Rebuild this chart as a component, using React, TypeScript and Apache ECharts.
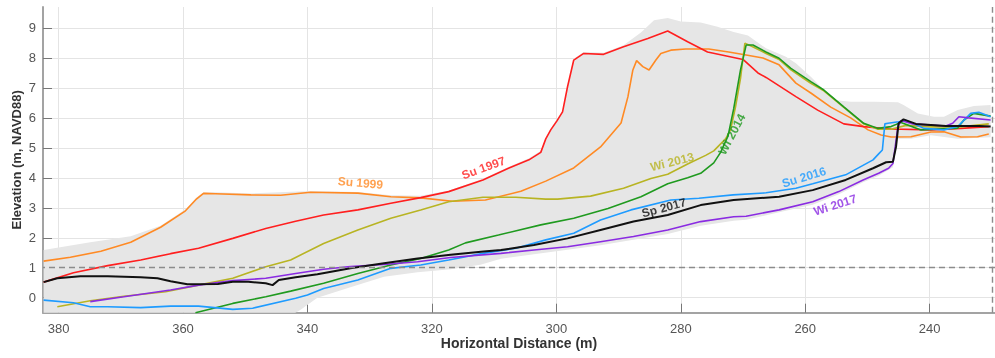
import React, { useEffect, useRef } from "react";
import * as echarts from "echarts";

// Axis ticks
const xTicks = [240, 260, 280, 300, 320, 340, 360, 380];
const yTicks = [0, 1, 2, 3, 4, 5, 6, 7, 8, 9];
const referenceElevation = 1;
const referenceDistance = 230;

// Profiles: [horizontal distance (m), elevation (m, NAVD88)]
const su1997: [number, number][] = [
  [382.4, 0.52], [377.6, 0.83], [372.1, 1.07], [366.8, 1.26], [362.0, 1.47], [357.5, 1.65],
  [352.0, 1.98], [346.7, 2.31], [341.9, 2.55], [337.4, 2.76], [331.9, 2.93], [326.6, 3.15],
  [321.8, 3.34], [317.3, 3.54], [311.8, 3.93], [307.7, 4.32], [304.4, 4.6], [302.5, 4.85],
  [301.7, 5.3], [300.9, 5.6], [299.9, 5.9], [299.0, 6.2], [298.2, 7.04], [297.2, 7.93],
  [295.6, 8.15], [292.4, 8.12], [289.2, 8.37], [285.3, 8.65], [282.1, 8.9], [278.9, 8.54],
  [275.7, 8.2], [270.0, 7.95], [267.6, 7.5], [266.3, 7.35], [261.5, 6.71], [258.0, 6.26],
  [253.8, 5.8], [250.6, 5.71], [246.2, 5.63], [239.8, 5.6], [235.0, 5.65], [230.5, 5.71],
];

const su1999: [number, number][] = [
  [382.4, 1.22], [378.1, 1.35], [373.2, 1.55], [368.4, 1.85], [363.6, 2.35], [359.6, 2.9],
  [357.8, 3.3], [356.7, 3.48], [354.8, 3.47], [349.1, 3.43], [344.3, 3.42], [339.5, 3.52],
  [331.9, 3.49], [326.6, 3.37], [321.8, 3.33], [316.7, 3.22], [311.4, 3.26], [305.7, 3.55],
  [301.7, 3.89], [297.2, 4.33], [292.9, 5.03], [289.6, 5.83], [288.5, 6.7], [287.7, 7.6],
  [287.1, 7.91], [286.1, 7.71], [285.1, 7.6], [284.0, 7.93], [283.2, 8.15], [281.6, 8.26],
  [279.2, 8.3], [275.5, 8.3], [272.3, 8.2], [269.5, 8.1], [266.8, 8.0], [264.2, 7.77],
  [261.5, 7.16], [259.1, 6.83], [255.9, 6.36], [252.7, 6.0], [249.9, 5.6], [247.8, 5.43],
  [246.2, 5.36], [243.0, 5.37], [239.8, 5.53], [237.7, 5.54], [235.0, 5.36], [232.3, 5.37],
  [230.5, 5.46],
];

const wi2013: [number, number][] = [
  [380.2, -0.3], [374.9, -0.1], [369.5, 0.05], [362.8, 0.2], [357.5, 0.42], [352.0, 0.65],
  [346.7, 1.03], [342.7, 1.26], [337.4, 1.81], [331.9, 2.26], [326.6, 2.65], [321.8, 2.93],
  [317.3, 3.2], [311.8, 3.35], [306.5, 3.35], [301.7, 3.29], [299.8, 3.29], [294.5, 3.39],
  [289.2, 3.65], [284.8, 3.98], [282.1, 4.12], [278.9, 4.46], [276.0, 4.75], [274.7, 4.9],
  [272.8, 5.3], [272.0, 5.6], [271.2, 6.37], [270.4, 7.32], [269.7, 8.49], [268.7, 8.4],
  [266.3, 8.15], [264.2, 7.95], [262.3, 7.6], [259.1, 7.15], [257.0, 6.9], [253.8, 6.35],
  [250.6, 5.8], [248.3, 5.62], [246.2, 5.62], [243.8, 5.75], [239.8, 5.7], [235.0, 5.7],
  [230.5, 5.8],
];

const wi2014: [number, number][] = [
  [358.0, -0.5], [352.0, -0.19], [346.7, 0.03], [342.7, 0.22], [337.4, 0.48], [331.9, 0.81],
  [326.6, 1.09], [321.8, 1.31], [317.3, 1.59], [314.6, 1.83], [309.3, 2.09], [302.5, 2.43],
  [297.2, 2.65], [291.7, 2.98], [286.4, 3.37], [282.1, 3.8], [278.9, 4.0], [276.8, 4.15],
  [274.7, 4.5], [273.6, 4.85], [272.4, 5.4], [271.5, 6.3], [270.4, 7.6], [269.5, 8.43],
  [268.4, 8.43], [266.3, 8.2], [264.2, 7.99], [262.3, 7.65], [259.1, 7.21], [257.0, 6.93],
  [253.8, 6.37], [250.6, 5.82], [248.3, 5.65], [246.2, 5.71], [244.6, 5.85], [241.4, 5.6],
  [235.5, 5.66], [234.5, 5.93], [232.9, 6.15], [230.2, 6.06],
];

const su2016: [number, number][] = [
  [382.4, -0.08], [377.6, -0.17], [374.9, -0.3], [372.1, -0.3], [366.8, -0.33], [362.0, -0.28],
  [357.5, -0.28], [352.0, -0.39], [348.8, -0.35], [341.9, -0.02], [340.0, 0.09], [337.4, 0.31],
  [331.9, 0.59], [326.6, 0.98], [321.8, 1.09], [317.3, 1.26], [311.8, 1.48], [306.5, 1.65],
  [301.7, 1.93], [297.2, 2.15], [292.9, 2.59], [288.0, 2.93], [281.6, 3.26], [277.1, 3.32],
  [271.6, 3.43], [266.3, 3.5], [261.5, 3.65], [258.8, 3.8], [253.5, 4.1], [249.1, 4.6],
  [248.2, 4.8], [247.6, 4.93], [247.2, 5.8], [246.7, 5.82], [245.0, 5.87], [243.8, 5.91],
  [240.9, 5.65], [237.7, 5.6], [235.5, 5.71], [233.4, 6.15], [232.1, 6.19], [230.2, 6.04],
];

const sp2017: [number, number][] = [
  [382.4, 0.52], [380.2, 0.65], [376.5, 0.72], [372.1, 0.72], [366.8, 0.68], [364.1, 0.65],
  [362.0, 0.55], [359.3, 0.45], [354.4, 0.46], [352.0, 0.53], [349.5, 0.53], [346.7, 0.48],
  [345.6, 0.42], [344.6, 0.59], [341.9, 0.68], [338.4, 0.78], [333.1, 0.98], [327.7, 1.15],
  [322.3, 1.31], [317.0, 1.43], [311.7, 1.54], [308.9, 1.59], [303.6, 1.76], [298.2, 1.98],
  [292.9, 2.26], [287.6, 2.54], [282.1, 2.76], [276.8, 3.09], [271.5, 3.26], [264.2, 3.37],
  [258.8, 3.59], [253.5, 3.93], [249.1, 4.32], [247.0, 4.52], [245.9, 4.54], [245.4, 5.04],
  [245.0, 5.82], [244.2, 5.95], [242.2, 5.8], [237.4, 5.73], [232.1, 5.73], [230.2, 5.71],
];

const wi2017: [number, number][] = [
  [374.9, -0.13], [369.5, 0.03], [362.0, 0.26], [357.5, 0.42], [352.0, 0.57], [346.7, 0.65],
  [341.9, 0.81], [337.4, 0.95], [333.1, 1.04], [327.7, 1.11], [322.3, 1.2], [317.0, 1.34],
  [308.9, 1.48], [303.6, 1.59], [298.2, 1.7], [292.9, 1.87], [287.6, 2.04], [282.1, 2.26],
  [276.8, 2.54], [271.5, 2.7], [269.5, 2.72], [264.2, 2.93], [258.8, 3.2], [254.6, 3.54],
  [250.7, 3.93], [248.2, 4.15], [246.6, 4.32], [245.9, 4.48], [245.1, 5.71], [244.6, 5.91],
  [242.7, 5.8], [237.4, 5.73], [236.3, 5.82], [235.3, 6.04], [233.7, 6.0], [230.2, 5.93],
];

// Envelope of all surveyed profiles
const envelopeUpper: [number, number][] = [
  [382.4, 1.59], [374.9, 1.85], [368.4, 2.05], [363.6, 2.4], [359.6, 2.95], [357.8, 3.35],
  [356.7, 3.52], [354.8, 3.52], [349.1, 3.48], [339.5, 3.56], [331.9, 3.53], [326.6, 3.42],
  [321.8, 3.4], [317.3, 3.58], [311.8, 3.97], [307.7, 4.36], [304.4, 4.65], [302.5, 4.9],
  [300.9, 5.65], [299.0, 6.25], [298.2, 7.1], [297.2, 7.97], [295.6, 8.2], [292.4, 8.17],
  [289.2, 8.42], [286.4, 8.85], [284.3, 9.26], [282.1, 9.33], [280.0, 9.22], [276.8, 9.18],
  [274.1, 9.04], [271.5, 8.87], [269.2, 8.75], [266.3, 8.32], [263.1, 8.04], [261.5, 7.82],
  [259.1, 7.37], [257.0, 6.93], [255.4, 6.6], [252.7, 6.54], [249.0, 6.54], [245.1, 6.52],
  [244.2, 6.43], [241.9, 6.15], [239.3, 6.04], [237.7, 6.04], [235.5, 6.26], [232.9, 6.4],
  [230.2, 6.43],
];

const envelopeLower: [number, number][] = [
  [382.4, -0.6], [342.7, -0.6], [341.1, -0.4], [338.4, 0.0], [333.1, 0.35], [327.7, 0.7],
  [322.3, 0.85], [317.0, 0.95], [312.2, 1.1], [308.9, 1.3], [303.6, 1.45], [298.2, 1.6],
  [292.9, 1.75], [287.6, 1.93], [282.1, 2.13], [276.8, 2.4], [271.5, 2.57], [269.5, 2.6],
  [264.2, 2.85], [258.8, 3.1], [254.6, 3.45], [250.7, 3.85], [248.2, 4.07], [245.9, 4.35],
  [245.1, 5.3], [243.0, 5.3], [239.8, 5.42], [235.5, 5.3], [230.2, 5.35],
];

const profileNames = ["Su 1999", "Su 1997", "Wi 2013", "Wi 2014", "Su 2016", "Wi 2017", "Sp 2017"];
const profileData = [su1999, su1997, wi2013, wi2014, su2016, wi2017, sp2017];
const profileColors = ["#ff8a24", "#ff1f1f", "#b8b423", "#1f9a1f", "#1e9bff", "#8a2be2", "#111111"];

// Label anchors in data coordinates and their tilt (degrees)
const labelAnchors: [number, number][] = [
  [331.5, 3.83], [311.7, 4.33], [281.4, 4.53], [271.8, 5.45], [260.2, 4.02], [255.2, 3.09], [282.7, 3.0],
];
const labelTilts = [-5, 20, 14, 62, 17, 18, 15];

const FONT = "'Liberation Sans', Arial, Helvetica, sans-serif";

export default function App() {
  const ref = useRef<HTMLDivElement>(null);

  useEffect(() => {
    if (!ref.current) return;
    const chart = echarts.init(ref.current, null, { renderer: "svg" });

    const lineSeries = profileData.map((d, i) => ({
      name: profileNames[i],
      type: "line",
      data: d,
      showSymbol: false,
      symbol: "none",
      z: 3,
      lineStyle: { color: profileColors[i], width: i === 6 ? 2 : 1.6 },
    }));

    const option: any = {
      animation: false,
      textStyle: { fontFamily: FONT },
      grid: { left: 43, right: 0, top: 7, bottom: 45.3, containLabel: false, outerBoundsMode: "none" },
      xAxis: {
        type: "value",
        inverse: true,
        min: 229.5,
        max: 382.5,
        name: "Horizontal Distance (m)",
        nameLocation: "middle",
        nameGap: 23,
        nameMoveOverlap: false,
        nameTextStyle: { fontWeight: "bold", fontSize: 14, color: "#333", fontFamily: FONT },
        axisLine: { show: true, onZero: false, lineStyle: { color: "#a3a3a3", width: 2 } },
        axisTick: { show: true, inside: true, length: 9, lineStyle: { color: "#777" }, customValues: xTicks },
        axisLabel: { customValues: xTicks, color: "#555", fontSize: 13, margin: 9, fontFamily: FONT },
        splitLine: { show: true, lineStyle: { color: "#e4e4e4", width: 1 } },
      },
      yAxis: {
        type: "value",
        min: -0.5,
        max: 9.7,
        name: "Elevation (m, NAVD88)",
        nameLocation: "middle",
        nameGap: 20,
        nameMoveOverlap: false,
        nameTextStyle: { fontWeight: "bold", fontSize: 13, color: "#333", fontFamily: FONT },
        axisLine: { show: true, onZero: false, lineStyle: { color: "#a3a3a3", width: 2 } },
        axisTick: { show: true, inside: true, length: 9, lineStyle: { color: "#777" }, customValues: yTicks },
        axisLabel: { customValues: yTicks, color: "#555", fontSize: 13, margin: 7, fontFamily: FONT },
        splitLine: { show: true, lineStyle: { color: "#e4e4e4", width: 1 } },
      },
      series: [
        {
          type: "custom",
          coordinateSystem: "cartesian2d",
          clip: true,
          silent: true,
          z: 1,
          encode: { x: 0, y: 1 },
          data: [envelopeUpper[0]],
          renderItem: (_params: any, api: any) => {
            const pts = envelopeUpper
              .map((p) => api.coord(p))
              .concat(envelopeLower.slice().reverse().map((p) => api.coord(p)));
            return { type: "polygon", shape: { points: pts }, style: { fill: "#e6e6e6" } };
          },
        },
        {
          type: "line",
          data: [[referenceDistance, referenceElevation]],
          showSymbol: false,
          symbol: "none",
          lineStyle: { opacity: 0 },
          z: 2,
          markLine: {
            silent: true,
            symbol: "none",
            label: { show: false },
            lineStyle: { color: "#8c8c8c", type: [6, 4], width: 1.4 },
            data: [{ yAxis: referenceElevation }, { xAxis: referenceDistance }],
          },
        },
        ...lineSeries,
        {
          type: "scatter",
          symbol: "circle",
          symbolSize: 0,
          itemStyle: { color: "rgba(0,0,0,0)" },
          z: 5,
          silent: true,
          data: labelAnchors.map((p, i) => ({
            value: p,
            name: profileNames[i],
            label: {
              show: true,
              position: "inside",
              formatter: profileNames[i],
              rotate: labelTilts[i],
              color: profileColors[i],
              fontWeight: "bold",
              fontSize: 12,
              fontFamily: FONT,
            },
          })),
        },
      ],
    };

    chart.setOption(option);
    return () => chart.dispose();
  }, []);

  return <div ref={ref} style={{ position: "fixed", left: 0, top: 0, width: 995, height: 358 }} />;
}
